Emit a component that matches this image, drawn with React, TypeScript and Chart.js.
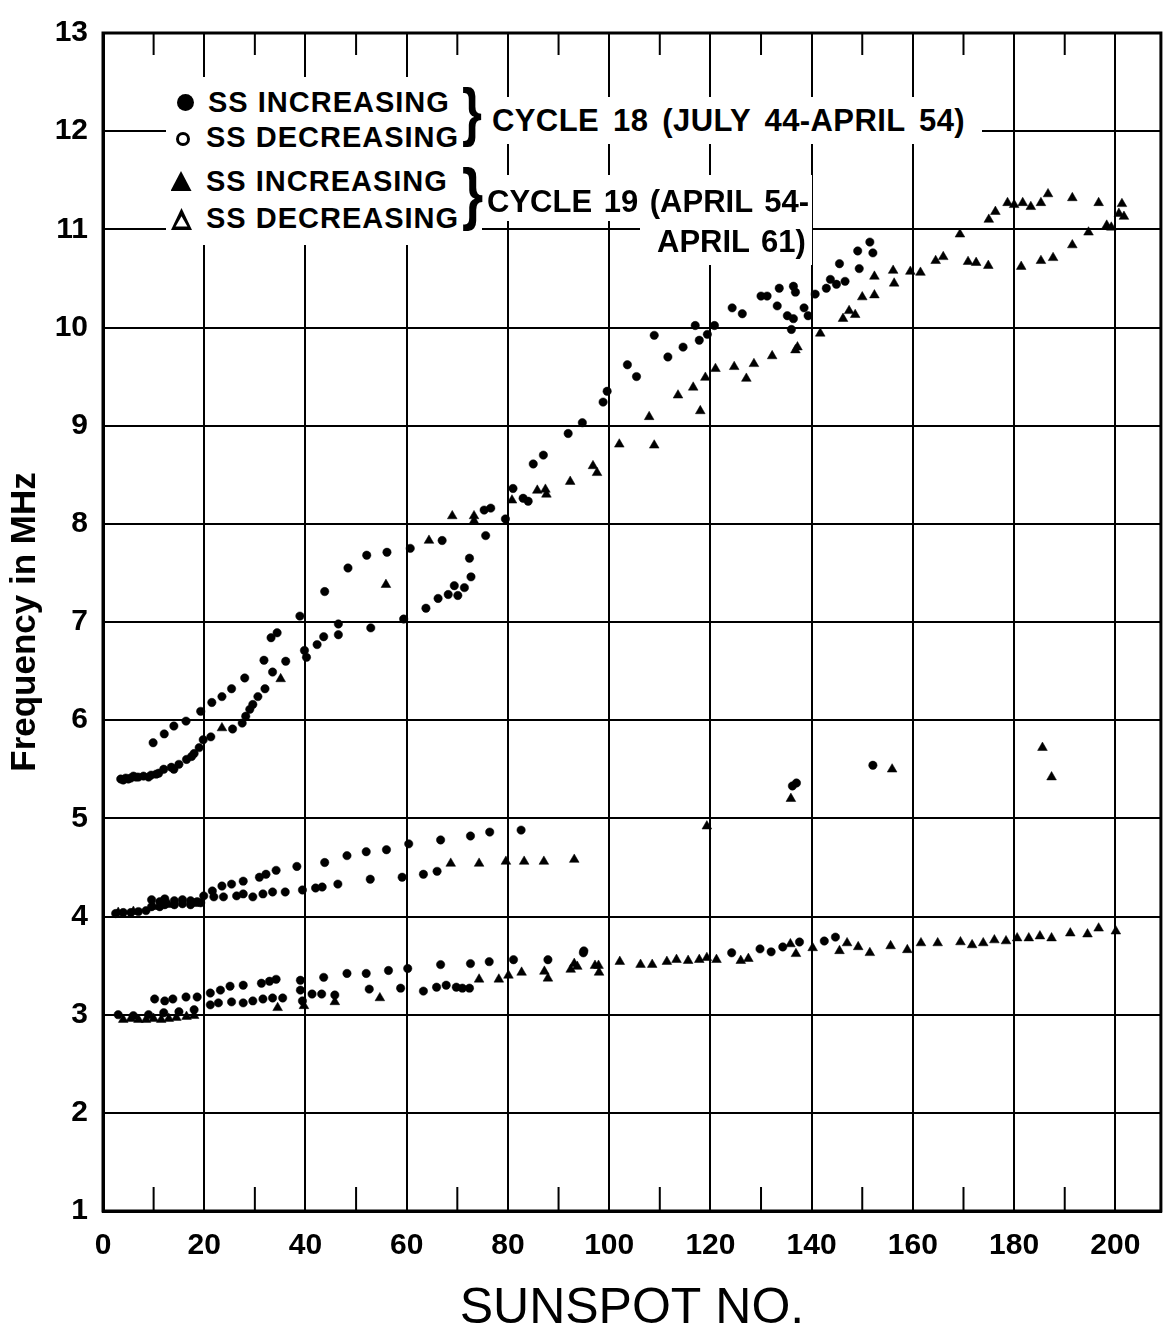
import React, { useEffect, useRef } from 'react';
import { Chart, registerables } from 'chart.js';

Chart.register(...registerables);

const W = 1167;
const H = 1337;
const FONT = "'Liberation Sans', Arial, Helvetica, sans-serif";

// ---------- axes ----------
const X_MIN = 0;
const X_MAX = 209;
const X_STEP = 20;
const Y_MIN = 1;
const Y_MAX = 13;
const Y_STEP = 1;
const MINOR_X_TICKS = [10, 30, 50, 70, 90, 110, 130, 150, 170, 190];
const X_TITLE = 'SUNSPOT NO.';
const Y_TITLE = 'Frequency in MHz';

// ---------- data: [sunspot no., frequency MHz] ----------
// Cycle 18, SS increasing (filled circles)
const c18IncHigh = [
  [9.9, 5.77], [12.1, 5.86], [14, 5.94], [16.4, 5.99], [19.3, 6.09], [21.5, 6.18], [23.5, 6.24],
  [25.4, 6.32], [28, 6.43], [31.8, 6.61], [33.2, 6.84], [34.4, 6.89], [38.9, 7.06], [43.8, 7.31],
  [48.4, 7.55], [52.1, 7.68], [56.1, 7.71], [60.7, 7.75], [67, 7.83], [75.3, 8.14], [76.6, 8.16],
  [85, 8.61], [87, 8.7], [91.9, 8.92], [94.7, 9.03], [98.8, 9.24], [99.6, 9.35], [103.6, 9.62],
  [105.4, 9.5], [108.9, 9.92], [111.6, 9.7], [114.6, 9.8], [117.8, 9.87], [119.4, 9.93], [117, 10.02],
  [120.8, 10.02], [124.3, 10.2], [126.3, 10.14], [130, 10.32], [131.2, 10.32], [133.6, 10.4],
  [136.4, 10.42], [140.7, 10.34], [142.9, 10.4], [143.7, 10.49], [144.9, 10.44], [146.6, 10.47],
  [145.5, 10.65], [149.4, 10.6], [149.1, 10.78], [151.5, 10.87], [152.1, 10.76],
];
const c18IncMid = [
  [9.6, 4.17], [11.2, 4.15], [12.2, 4.18], [14.1, 4.16], [15.7, 4.17], [17.3, 4.16], [19.9, 4.21],
  [21.6, 4.26], [23.5, 4.31], [25.4, 4.33], [27.7, 4.36], [30.9, 4.4], [32.2, 4.43], [34.2, 4.47],
  [38.3, 4.51], [43.8, 4.55], [48.2, 4.62], [52, 4.66], [56, 4.68], [60.4, 4.74], [66.7, 4.78],
  [72.6, 4.82], [76.4, 4.86], [82.6, 4.88],
];
const c18IncLow = [
  [10.2, 3.16], [12.2, 3.14], [13.8, 3.16], [16.4, 3.18], [18.6, 3.18], [21.2, 3.22], [23.2, 3.25],
  [25.1, 3.29], [27.7, 3.3], [31.3, 3.32], [32.9, 3.34], [34.2, 3.36], [39, 3.35], [43.6, 3.38],
  [48.2, 3.42], [52, 3.42], [56.4, 3.45], [60.2, 3.47], [66.7, 3.51], [72.6, 3.52], [76.3, 3.54],
  [81.1, 3.56], [87.9, 3.56], [94.9, 3.63], [95, 3.65], [124.2, 3.63], [129.8, 3.67], [137.6, 3.74],
  [142.5, 3.75], [144.7, 3.79],
];

// Cycle 18, SS decreasing (open circles)
const c18DecHigh = [
  [3.5, 5.4], [4, 5.39], [4.5, 5.41], [5, 5.4], [5.5, 5.41], [6, 5.43], [6.5, 5.42], [7, 5.42],
  [8, 5.43], [9, 5.42], [9.5, 5.44], [10.5, 5.45], [11, 5.46], [12, 5.5], [13.5, 5.52], [14, 5.5],
  [15, 5.55], [16.5, 5.6], [17.5, 5.63], [18, 5.66], [19, 5.72], [19.8, 5.8], [21.3, 5.83],
  [25.6, 5.91], [27.5, 5.97], [28.2, 6.04], [29, 6.11], [29.6, 6.16], [30.6, 6.24], [32, 6.32],
  [33.5, 6.49], [36.1, 6.6], [39.8, 6.71], [40.2, 6.64], [42.3, 6.77], [43.6, 6.85], [46.5, 6.98],
  [46.5, 6.87], [52.9, 6.94], [59.4, 7.03], [63.8, 7.14], [66.2, 7.24], [68.2, 7.28], [69.4, 7.37],
  [70.1, 7.27], [71.4, 7.35], [72.7, 7.46], [72.4, 7.65], [75.6, 7.88], [79.5, 8.05], [81, 8.36],
  [83, 8.26], [84, 8.23], [133.2, 10.22], [135.2, 10.12], [136.4, 10.09], [136, 9.98], [138.5, 10.2],
  [139.3, 10.12], [136.8, 10.36],
];
const c18DecMid = [
  [2.5, 4.03], [4, 4.04], [5.5, 4.04], [7, 4.05], [8.5, 4.06], [9.6, 4.1], [11.2, 4.1], [12.2, 4.12],
  [14.1, 4.12], [15.7, 4.13], [17.3, 4.12], [18.6, 4.15], [19.3, 4.14], [21.9, 4.2], [23.8, 4.2],
  [26.4, 4.21], [27.7, 4.23], [29.6, 4.2], [31.6, 4.23], [33.5, 4.25], [36, 4.25], [39.4, 4.27],
  [42, 4.29], [43.3, 4.3], [46.4, 4.33], [52.8, 4.38], [59.1, 4.4], [63.3, 4.43], [66, 4.46],
];
const c18DecLow = [
  [3, 3.0], [6, 2.99], [9, 3.0], [12, 3.02], [15, 3.03], [18, 3.05], [21.2, 3.1], [22.8, 3.12],
  [25.4, 3.13], [27.7, 3.12], [29.6, 3.14], [31.6, 3.16], [33.5, 3.17], [35.5, 3.17], [39, 3.25],
  [39.4, 3.14], [41.3, 3.21], [43.2, 3.21], [45.8, 3.2], [52.6, 3.26], [58.8, 3.27], [63.3, 3.24],
  [65.9, 3.28], [67.8, 3.3], [69.8, 3.28], [71, 3.27], [72.4, 3.27], [132, 3.64], [134.3, 3.69],
];
const c18DecOutliers = [[136.2, 5.33], [137, 5.36], [152.1, 5.54]];

// Cycle 19, SS increasing (filled triangles)
const c19IncHigh = [
  [23.5, 5.92], [35.1, 6.42], [55.9, 7.38], [64.4, 7.83], [69, 8.08], [73.3, 8.08], [73.3, 8.03],
  [80.8, 8.24], [85.8, 8.34], [87.4, 8.35], [87.6, 8.3], [92.3, 8.43], [96.8, 8.59], [97.6, 8.52],
  [102, 8.81], [108.9, 8.8], [107.9, 9.09], [113.6, 9.31], [116.6, 9.39], [118, 9.15], [119, 9.49],
  [121, 9.58], [124.7, 9.6], [127.1, 9.48], [128.6, 9.63], [132.2, 9.71], [136.8, 9.77], [137.2, 9.8],
  [141.7, 9.94], [146.2, 10.09], [147.4, 10.17], [148.6, 10.13], [150, 10.31], [152.4, 10.33],
  [152.4, 10.52], [156.1, 10.58], [156.3, 10.45], [159.5, 10.57], [161.5, 10.56], [164.5, 10.68],
  [166, 10.72], [169.3, 10.95], [170.9, 10.67], [172.5, 10.66], [174.9, 10.63], [175, 11.1],
  [176.3, 11.18], [178.7, 11.27], [180, 11.25], [181.7, 11.27], [183.3, 11.23], [185.3, 11.27],
  [186.7, 11.36], [191.5, 11.32], [196.7, 11.27], [201.3, 11.26], [200.7, 11.16], [201.7, 11.13],
];
const c19IncMid = [[3, 4.04], [6, 4.05], [10, 4.1], [13, 4.12], [18, 4.13]];
const c19IncLow = [
  [4, 2.95], [5.5, 2.96], [7, 2.95], [8.5, 2.95], [10, 2.96], [11.5, 2.95], [13, 2.96], [14.5, 2.97],
  [16.5, 2.98], [18, 2.99], [93.1, 3.52], [97.2, 3.5], [98, 3.43], [102.1, 3.54], [106.2, 3.51],
  [108.5, 3.51], [111.4, 3.54], [113.3, 3.56], [115.6, 3.55], [117.8, 3.56], [119.3, 3.58],
  [121.2, 3.56], [126, 3.55], [127.5, 3.57], [135.8, 3.72], [136.9, 3.62], [140.2, 3.68],
  [145.5, 3.65], [147, 3.73], [149.2, 3.69], [151.5, 3.63], [155.6, 3.7], [158.9, 3.66],
  [161.6, 3.73], [164.9, 3.73], [169.4, 3.74], [171.7, 3.71], [173.9, 3.73], [176.1, 3.76],
  [178.4, 3.75], [180.6, 3.78], [182.9, 3.78], [185.1, 3.8], [187.4, 3.78], [191.1, 3.83],
  [194.5, 3.82], [196.7, 3.88], [200.1, 3.85],
];

// Cycle 19, SS decreasing (open triangles)
const c19DecHigh = [
  [181.4, 10.62], [185.3, 10.68], [187.7, 10.71], [191.5, 10.84], [194.7, 10.97], [198.3, 11.04],
  [199.2, 11.02],
];
const c19DecMid = [[68.7, 4.54], [74.3, 4.54], [79.6, 4.56], [83.2, 4.56], [87.1, 4.56], [93.1, 4.58]];
const c19DecLow = [
  [34.5, 3.07], [39.7, 3.09], [45.8, 3.13], [54.7, 3.17], [74.3, 3.36], [78.2, 3.36], [80.1, 3.4],
  [82.7, 3.43], [87.2, 3.44], [87.9, 3.37], [92.4, 3.46], [93.7, 3.49], [97.9, 3.5],
];
const c19DecOutliers = [[119.3, 4.92], [135.9, 5.2], [155.9, 5.5], [185.6, 5.72], [187.4, 5.42]];

const toPts = (...groups: number[][][]) =>
  groups.flat().map(([x, y]) => ({ x, y }));

// ---------- plugin: frame + inner minor ticks ----------
const framePlugin = {
  id: 'frameAndMinorTicks',
  beforeDatasetsDraw(chart: any) {
    const { ctx, chartArea: a, scales } = chart;
    const xs = scales.x;
    ctx.save();
    ctx.strokeStyle = '#000';
    ctx.lineWidth = 2;
    ctx.beginPath();
    for (const v of MINOR_X_TICKS) {
      const px = xs.getPixelForValue(v);
      ctx.moveTo(px, a.top);
      ctx.lineTo(px, a.top + 22);
      ctx.moveTo(px, a.bottom);
      ctx.lineTo(px, a.bottom - 24);
    }
    ctx.stroke();
    ctx.lineWidth = 3;
    ctx.strokeRect(a.left, a.top, a.right - a.left, a.bottom - a.top);
    ctx.restore();
  },
};

const Text = ({ left, cy, size, ls = 0, ws = 0, children }: any) => (
  <div
    style={{
      position: 'absolute',
      left,
      top: cy - 0.4885 * size,
      fontFamily: FONT,
      fontWeight: 700,
      fontSize: size,
      lineHeight: 1,
      letterSpacing: ls,
      wordSpacing: ws,
      whiteSpace: 'nowrap',
      color: '#000',
    }}
  >
    {children}
  </div>
);

const Box = ({ left, top, width, height }: any) => (
  <div style={{ position: 'absolute', left, top, width, height, background: '#fff' }} />
);

const Brace = ({ left, top, size }: any) => (
  <div
    style={{
      position: 'absolute',
      left,
      top,
      fontFamily: FONT,
      fontWeight: 700,
      fontSize: size,
      lineHeight: 1,
      transform: 'scaleX(0.8)',
      transformOrigin: 'left top',
      color: '#000',
    }}
  >
    {'}'}
  </div>
);

export default function App() {
  const ref = useRef<HTMLCanvasElement>(null);

  useEffect(() => {
    const black = '#000';
    const dot = { pointStyle: 'circle', pointRadius: 4.2, pointHoverRadius: 4.2 };
    const tri = { pointStyle: 'triangle', pointRadius: 5.6, pointHoverRadius: 5.6 };
    const common = {
      pointBackgroundColor: black,
      pointBorderColor: black,
      pointBorderWidth: 0.5,
      showLine: false,
    };
    const chart = new Chart(ref.current as HTMLCanvasElement, {
      type: 'scatter',
      data: {
        datasets: [
          { label: 'Cycle 18 SS increasing', data: toPts(c18IncHigh, c18IncMid, c18IncLow), ...common, ...dot },
          { label: 'Cycle 18 SS decreasing', data: toPts(c18DecHigh, c18DecMid, c18DecLow, c18DecOutliers), ...common, ...dot },
          { label: 'Cycle 19 SS increasing', data: toPts(c19IncHigh, c19IncMid, c19IncLow), ...common, ...tri },
          { label: 'Cycle 19 SS decreasing', data: toPts(c19DecHigh, c19DecMid, c19DecLow, c19DecOutliers), ...common, ...tri },
        ] as any,
      },
      options: {
        animation: false,
        responsive: false,
        events: [],
        layout: { padding: { top: 25, right: 3, left: 0, bottom: 0 } },
        plugins: { legend: { display: false }, tooltip: { enabled: false } },
        scales: {
          x: {
            type: 'linear',
            position: 'bottom',
            min: X_MIN,
            max: X_MAX,
            ticks: {
              stepSize: X_STEP,
              includeBounds: false,
              autoSkip: false,
              maxRotation: 0,
              padding: 17,
              color: black,
              font: { family: FONT, size: 30, weight: 'bold' },
            },
            grid: { color: black, lineWidth: 2, drawTicks: false },
            border: { display: true, color: black, width: 3 },
            title: {
              display: true,
              text: X_TITLE,
              color: black,
              font: { family: FONT, size: 50, weight: 'normal', lineHeight: 1.1 },
              padding: { top: 0, bottom: 0 },
            },
            afterFit: (s: any) => {
              s.height = 126;
            },
          },
          y: {
            type: 'linear',
            min: Y_MIN,
            max: Y_MAX,
            ticks: {
              stepSize: Y_STEP,
              autoSkip: false,
              padding: 15,
              color: black,
              font: { family: FONT, size: 30, weight: 'bold' },
            },
            grid: { color: black, lineWidth: 2, drawTicks: false },
            border: { display: true, color: black, width: 3 },
            title: {
              display: true,
              text: Y_TITLE,
              color: black,
              font: { family: FONT, size: 35, weight: 'bold' },
              padding: { top: 4, bottom: 0 },
            },
            afterFit: (s: any) => {
              s.width = 103;
            },
          },
        },
      } as any,
      plugins: [framePlugin],
    });
    return () => chart.destroy();
  }, []);

  return (
    <div
      style={{
        position: 'absolute',
        left: 0,
        top: 0,
        width: W,
        height: H,
        background: '#fff',
        overflow: 'hidden',
      }}
    >
      <canvas
        ref={ref}
        width={W}
        height={H}
        style={{ position: 'absolute', left: 0, top: 0, width: W, height: H, display: 'block' }}
      />
      {/* legend backgrounds (cover the grid like the original lettering) */}
      <Box left={166} top={77} width={316} height={168} />
      <Box left={482} top={97} width={500} height={47} />
      <Box left={482} top={175} width={330} height={46} />
      <Box left={640} top={221} width={172} height={44} />

      {/* markers */}
      <div style={{ position: 'absolute', left: 176.5, top: 93.5, width: 17, height: 17, borderRadius: '50%', background: '#000' }} />
      <div style={{ position: 'absolute', left: 176, top: 132, width: 14, height: 14, borderRadius: '50%', border: '3px solid #000', boxSizing: 'border-box', background: '#fff' }} />
      <div style={{ position: 'absolute', left: 170.5, top: 171, width: 21, height: 20, background: '#000', clipPath: 'polygon(50% 0, 100% 100%, 0 100%)' }} />
      <div style={{ position: 'absolute', left: 171, top: 208, width: 21, height: 22, background: '#000', clipPath: 'polygon(50% 0, 100% 100%, 0 100%)' }} />
      <div style={{ position: 'absolute', left: 171, top: 208, width: 21, height: 22, background: '#fff', clipPath: 'polygon(50% 38%, 78% 84%, 22% 84%)' }} />

      {/* legend text */}
      <Text left={208} cy={102} size={29} ls={1}>SS INCREASING</Text>
      <Text left={206} cy={137} size={29} ls={1}>SS DECREASING</Text>
      <Text left={206} cy={181} size={29} ls={1}>SS INCREASING</Text>
      <Text left={206} cy={218} size={29} ls={1}>SS DECREASING</Text>
      <Brace left={462} top={80} size={64} />
      <Brace left={462} top={159} size={68} />
      <Text left={492} cy={120} size={31} ls={0.4} ws={5}>CYCLE 18 (JULY 44-APRIL 54)</Text>
      <Text left={487} cy={201} size={31} ls={0} ws={3}>CYCLE 19 (APRIL 54-</Text>
      <Text left={657} cy={241} size={31} ls={0} ws={3}>APRIL 61)</Text>
    </div>
  );
}
